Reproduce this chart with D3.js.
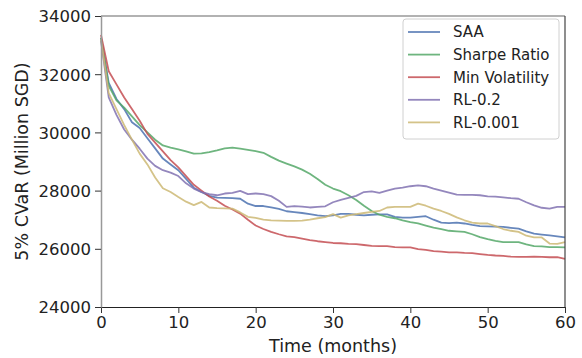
<!DOCTYPE html>
<html>
<head>
<meta charset="utf-8">
<script src="https://cdn.jsdelivr.net/npm/d3@7"></script>
<style>
body { margin: 0; background: #fff; }
svg { display: block; font-family: "DejaVu Sans", sans-serif; }
.tick text { font-family: "DejaVu Sans", sans-serif; font-size: 16.5px; fill: #222; }
</style>
</head>
<body>
<svg id="chart" width="582" height="358"></svg>
<script>
// months 0..60
var months = d3.range(0, 61)

var seriesNames = ["SAA", "Sharpe Ratio", "Min Volatility", "RL-0.2", "RL-0.001"]
var seriesColors = ["#4C72B0", "#55A868", "#C44E52", "#8172B2", "#CCB974"]

var saa = [33250, 31700, 31150, 30800, 30350, 30150, 29800, 29450, 29100, 28900,
	28700, 28400, 28100, 27950, 27820, 27760, 27750, 27740, 27720, 27550,
	27470, 27470, 27420, 27370, 27290, 27260, 27230, 27190, 27150, 27120,
	27150, 27200, 27200, 27170, 27150, 27170, 27180, 27180, 27100, 27070,
	27070, 27100, 27120, 27000, 26900, 26880, 26900, 26870, 26820, 26780,
	26770, 26760, 26750, 26720, 26690, 26600, 26520, 26490, 26460, 26430, 26390]

var sharpe = [33250, 31600, 31100, 30850, 30550, 30250, 30000, 29750, 29550, 29480,
	29420, 29350, 29270, 29280, 29320, 29380, 29450, 29480, 29440, 29400,
	29360, 29300, 29160, 29030, 28930, 28830, 28720, 28580, 28400, 28200,
	28070, 27980, 27840, 27680, 27480, 27300, 27170, 27100, 27050, 26980,
	26920, 26870, 26800, 26730, 26680, 26620, 26600, 26580, 26500, 26400,
	26330, 26270, 26230, 26230, 26230, 26150, 26090, 26080, 26060, 26060, 26050]

var minVol = [33350, 32100, 31650, 31200, 30800, 30400, 29950, 29650, 29350, 29050,
	28800, 28500, 28200, 28000, 27800, 27650, 27480, 27350, 27210, 27000,
	26800, 26680, 26580, 26500, 26430, 26400, 26350, 26300, 26260, 26230,
	26200, 26190, 26170, 26160, 26130, 26100, 26090, 26090, 26060, 26050,
	26050, 25990, 25960, 25920, 25900, 25880, 25880, 25860, 25850, 25820,
	25790, 25770, 25760, 25730, 25720, 25720, 25730, 25720, 25710, 25710, 25650]

var rl02 = [33150, 31200, 30600, 30100, 29750, 29440, 29100, 28850, 28700, 28620,
	28500, 28250, 28070, 27950, 27880, 27840, 27900, 27920, 27990, 27880,
	27900, 27880, 27810, 27650, 27440, 27470, 27450, 27420, 27440, 27460,
	27600, 27680, 27750, 27820, 27950, 27970, 27920, 28000, 28070, 28100,
	28150, 28180, 28150, 28070, 28000, 27930, 27860, 27850, 27850, 27840,
	27800, 27790, 27770, 27740, 27720, 27600, 27490, 27410, 27380, 27440, 27440]

var rl0001 = [33200, 31350, 30800, 30250, 29750, 29270, 28900, 28450, 28080, 27950,
	27780, 27620, 27500, 27610, 27420, 27400, 27390, 27380, 27250, 27100,
	27060, 27000, 26980, 26970, 26960, 26960, 26970, 27000, 27050, 27090,
	27190, 27070, 27150, 27190, 27230, 27270, 27300, 27420, 27440, 27440,
	27440, 27550, 27480, 27380, 27300, 27200, 27080, 26980, 26900, 26870,
	26870, 26780, 26680, 26620, 26580, 26450, 26390, 26390, 26180, 26170, 26230]

var xTicks = [0, 10, 20, 30, 40, 50, 60]
var yTicks = [24000, 26000, 28000, 30000, 32000, 34000]

var allSeries = [saa, sharpe, minVol, rl02, rl0001]

var svg = d3.select("#chart")
var plotLeft = 101, plotRight = 565, plotTop = 16, plotBottom = 307

var xScale = d3.scaleLinear().domain([0, 60]).range([plotLeft, plotRight])
var yScale = d3.scaleLinear().domain([24000, 34000]).range([plotBottom, plotTop])

// lines
var line = d3.line()
	.x(function(d, i) { return xScale(months[i]) })
	.y(function(d) { return yScale(d) })

svg.append("g")
	.attr("class", "lines")
	.selectAll("path")
	.data(allSeries).enter()
	.append("path")
		.attr("d", line)
		.attr("fill", "none")
		.attr("stroke", function(d, i) { return seriesColors[i] })
		.attr("stroke-opacity", 0.85)
		.attr("stroke-width", 1.8)
		.attr("stroke-linejoin", "round")

// axes
var xAxis = svg.append("g")
	.attr("transform", "translate(0," + plotBottom + ")")
	.call(d3.axisBottom(xScale).tickValues(xTicks).tickSize(6).tickSizeOuter(0).tickPadding(3))
xAxis.select(".domain").attr("stroke", "#222").attr("stroke-width", 1.2)
xAxis.selectAll(".tick line").attr("stroke", "#333")

var yAxis = svg.append("g")
	.attr("transform", "translate(" + plotLeft + ",0)")
	.call(d3.axisLeft(yScale).tickValues(yTicks).tickFormat(d3.format("d")).tickSize(6).tickSizeOuter(0).tickPadding(4))
yAxis.select(".domain").attr("stroke", "#999").attr("stroke-width", 1.5)
yAxis.selectAll(".tick line").attr("stroke", "#333")
yAxis.selectAll(".tick text").attr("dy", "0.36em")

// top and right spines
svg.append("line")
	.attr("x1", plotLeft).attr("x2", plotRight)
	.attr("y1", plotTop).attr("y2", plotTop)
	.attr("stroke", "#666").attr("stroke-width", 1.2)
svg.append("line")
	.attr("x1", plotRight).attr("x2", plotRight)
	.attr("y1", plotTop).attr("y2", plotBottom)
	.attr("stroke", "#444").attr("stroke-width", 1.2)

// axis labels
svg.append("text")
	.attr("x", (plotLeft + plotRight) / 2)
	.attr("y", 352)
	.attr("text-anchor", "middle")
	.attr("font-size", "17.5px")
	.attr("fill", "#222")
	.text("Time (months)")

svg.append("text")
	.attr("transform", "translate(28," + ((plotTop + plotBottom) / 2) + ") rotate(-90)")
	.attr("text-anchor", "middle")
	.attr("font-size", "17.5px")
	.attr("fill", "#222")
	.text("5% CVaR (Million SGD)")

// legend
var legend = svg.append("g")
	.attr("transform", "translate(403,19)")
legend.append("rect")
	.attr("width", 156).attr("height", 120)
	.attr("rx", 3)
	.attr("fill", "#fff").attr("fill-opacity", 0.8)
	.attr("stroke", "#d0d0d0")

var rows = legend.selectAll(".row")
	.data(seriesNames).enter()
	.append("g")
		.attr("class", "row")
		.attr("transform", function(d, i) { return "translate(0," + (13 + i * 22.6) + ")" })
rows.append("line")
	.attr("x1", 5).attr("x2", 37)
	.attr("stroke", function(d, i) { return seriesColors[i] })
	.attr("stroke-opacity", 0.85)
	.attr("stroke-width", 1.8)
rows.append("text")
	.attr("x", 50)
	.attr("dy", "0.36em")
	.attr("font-size", "15px")
	.attr("fill", "#222")
	.text(function(d) { return d })
</script>
</body>
</html>
